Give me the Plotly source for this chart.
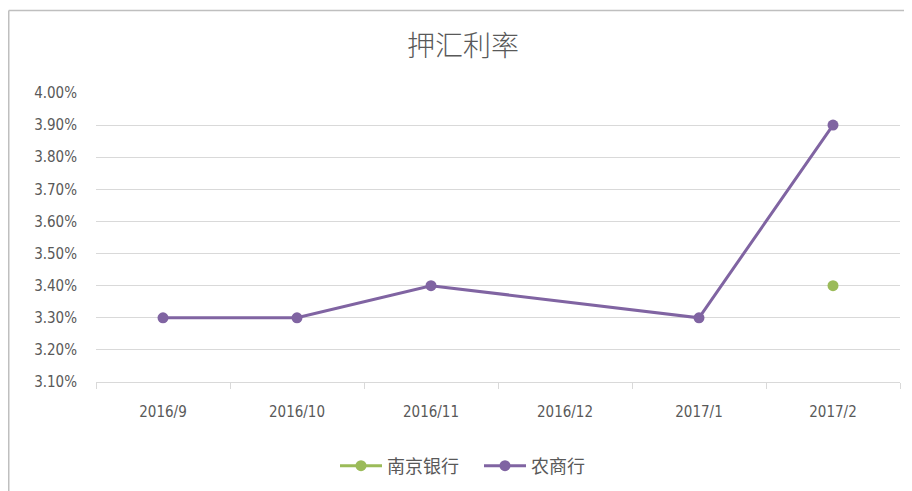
import plotly.graph_objects as go

categories = ["2016/9", "2016/10", "2016/11", "2016/12", "2017/1", "2017/2"]
nanjing_bank = [None, None, None, None, None, 3.40]
rural_bank = [3.30, 3.30, 3.40, None, 3.30, 3.90]
y_ticks = [3.10, 3.20, 3.30, 3.40, 3.50, 3.60, 3.70, 3.80, 3.90, 4.00]
y_tick_labels = [f"{v:.2f}%" for v in y_ticks]

GREEN = "#9bbb59"
PURPLE = "#8064a2"
TXT = "#595959"

PLOT_TOP = 93.0
PLOT_H = 289.0
PLOT_W = 804.0

fig = go.Figure()
fig.add_trace(go.Scatter(
    x=categories, y=nanjing_bank, name="南京银行", mode="lines+markers",
    line=dict(color=GREEN, width=3), marker=dict(size=11, color=GREEN),
    connectgaps=True,
))
fig.add_trace(go.Scatter(
    x=categories, y=rural_bank, name="农商行", mode="lines+markers",
    line=dict(color=PURPLE, width=3), marker=dict(size=11, color=PURPLE),
    connectgaps=True,
))

border_top = 1 + (PLOT_TOP - 10.5) / PLOT_H
border_left = (8.75 - 96) / PLOT_W

fig.update_layout(
    width=912, height=491,
    paper_bgcolor="white", plot_bgcolor="white",
    margin=dict(l=88, r=20, t=85, b=117),
    title=dict(text="押汇利率", x=(463 - 8) / 912, xanchor="center", y=1 - 38 / 491, yanchor="middle",
               font=dict(family="Noto Sans CJK SC", size=28, color=TXT, weight=300)),
    showlegend=True,
    legend=dict(orientation="h", x=(335 - 96) / PLOT_W, xanchor="left", y=-84 / PLOT_H, yanchor="middle",
                font=dict(family="Noto Sans CJK SC", size=18, color=TXT),
                itemwidth=42, entrywidth=87, entrywidthmode="pixels"),
    shapes=[
        dict(type="line", xref="paper", yref="paper",
             x0=border_left, x1=1.1, y0=border_top, y1=border_top,
             line=dict(color="#bfbfbf", width=1.5)),
        dict(type="line", xref="paper", yref="paper",
             x0=border_left, x1=border_left, y0=-1, y1=border_top,
             line=dict(color="#bfbfbf", width=1.5)),
    ],
)
fig.update_xaxes(
    type="category", range=[-0.5, 5.5], showgrid=False, showline=True, linecolor="#d9d9d9", linewidth=1,
    ticks="outside", tickson="boundaries", ticklen=6, tickcolor="#d9d9d9",
    tickfont=dict(family="DejaVu Sans Condensed", size=15, color=TXT),
    ticklabelstandoff=16, fixedrange=True,
)
fig.update_yaxes(
    range=[3.10, 4.00], tickvals=y_ticks, ticktext=y_tick_labels,
    showgrid=True, gridcolor="#d9d9d9", gridwidth=1, zeroline=False, showline=False,
    tickfont=dict(family="DejaVu Sans Condensed", size=15, color=TXT), ticklabelstandoff=18,
)

fig.write_html("out.html")
